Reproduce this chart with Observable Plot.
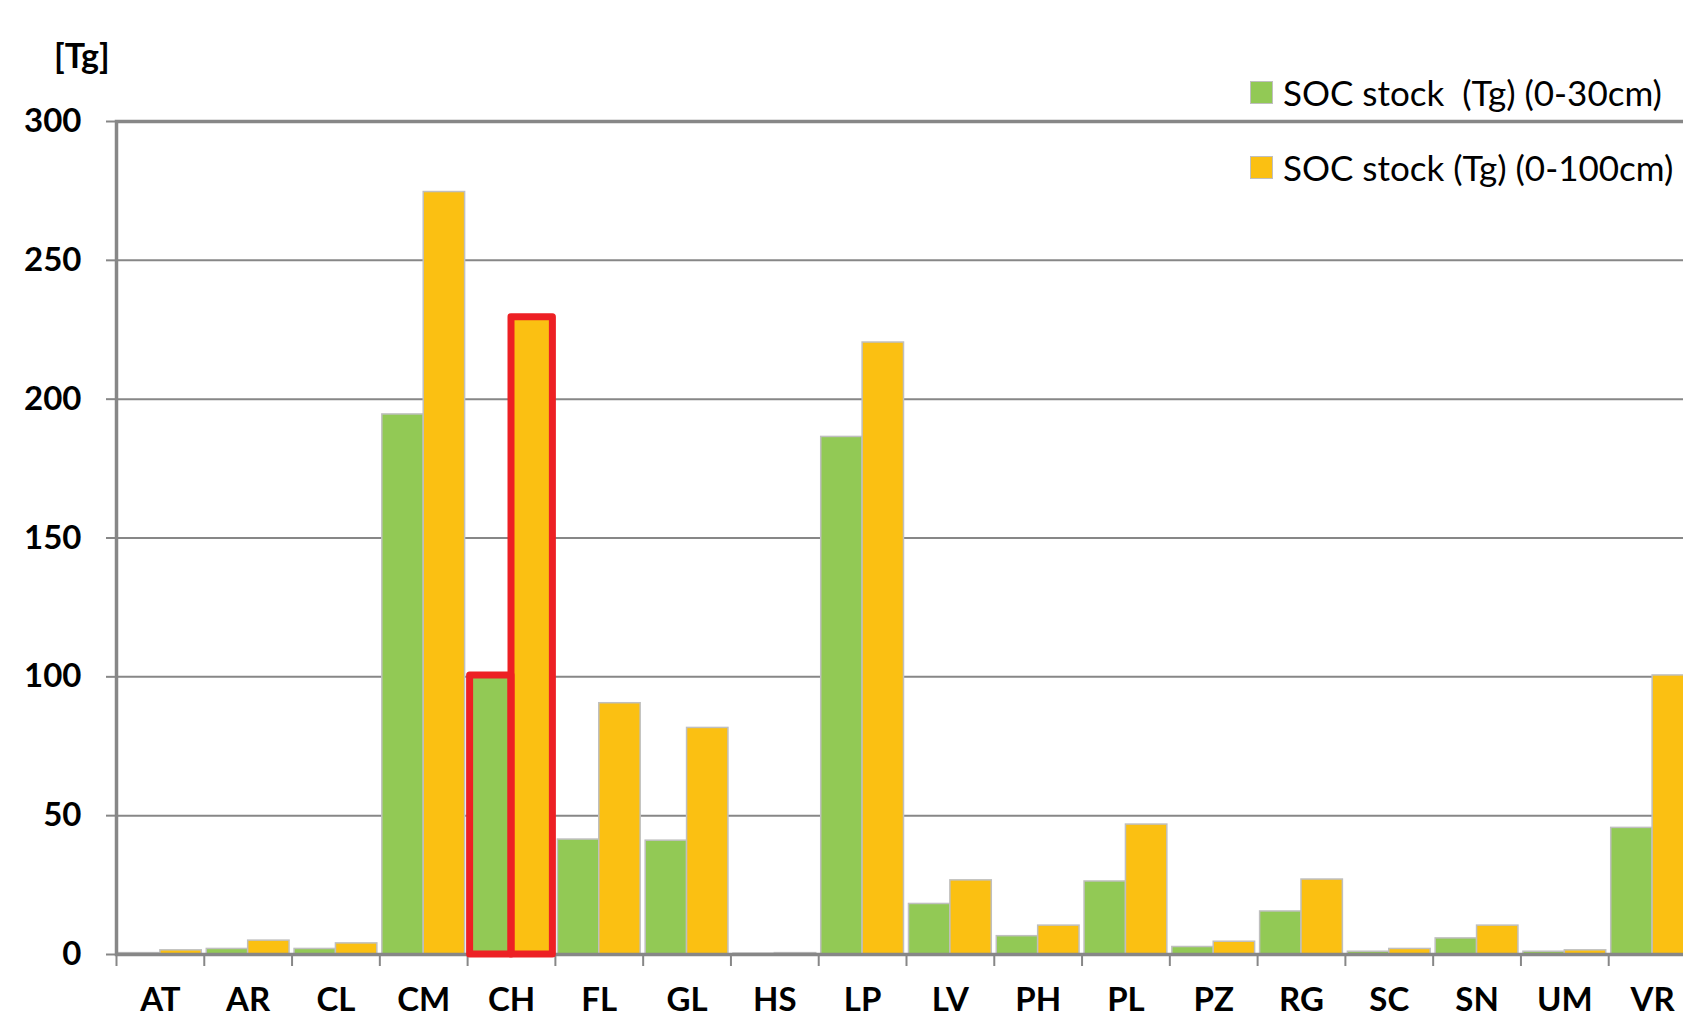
<!DOCTYPE html>
<html><head><meta charset="utf-8">
<script src="https://cdn.jsdelivr.net/npm/d3@7"></script>
<script src="https://cdn.jsdelivr.net/npm/@observablehq/plot@0.6"></script>
<style>
html,body{margin:0;padding:0;background:#fff;overflow:hidden;width:1683px;height:1017px;}
#wrap{position:relative;width:1683px;height:1017px;overflow:hidden;background:#fff;}
#chart{position:absolute;left:0;top:0;}
#unit{position:absolute;left:54px;top:34px;font-family:Lato;font-weight:bold;font-size:34px;color:#000;}
.leg{position:absolute;left:1250px;display:flex;align-items:center;font-family:Lato;font-size:35px;white-space:pre;color:#000;height:40px;}
.sw{width:21px;height:21px;border:1.5px solid #bfbfbf;margin-right:10px;flex:none;}
</style></head><body>
<div id="wrap"><div id="chart"></div><div id="unit"></div><div id="legend"></div></div>
<script>
const categories = ["AT","AR","CL","CM","CH","FL","GL","HS","LP","LV","PH","PL","PZ","RG","SC","SN","UM","VR"];
const soc30 = [0.5, 2, 2, 194.5, 100.5, 41.4, 41, 0.3, 186.4, 18.2, 6.6, 26.3, 2.7, 15.5, 1, 5.8, 1, 45.6];
const soc100 = [1.5, 5, 4, 274.6, 229.5, 90.5, 81.6, 0.5, 220.4, 26.7, 10.4, 46.8, 4.6, 27, 2, 10.4, 1.5, 100.5];
const seriesNames = ["SOC stock  (Tg) (0-30cm)", "SOC stock (Tg) (0-100cm)"];
const seriesColors = ["#92C955", "#FBC012"];
const yTicks = [0, 50, 100, 150, 200, 250, 300];
const highlighted = ["CH"];
const unitLabel = "[Tg]";

const rows30 = categories.map((c, i) => ({cat: c, v: soc30[i]}));
const rows100 = categories.map((c, i) => ({cat: c, v: soc100[i]}));

const W = 1700, H = 1017, ML = 116, MR = 4, MT = 121, MB = 63;
const bw = (W - ML - MR) / categories.length;
const gap = 2.5;
const gray = "#878787";

const plot = Plot.plot({
  width: W, height: H,
  marginLeft: ML, marginRight: MR, marginTop: MT, marginBottom: MB,
  style: {fontFamily: "Lato", fontSize: "33px", fontWeight: "bold", maxWidth: "none", background: "transparent", overflow: "visible", color: "#000"},
  x: {domain: categories, padding: 0, round: false, axis: null},
  y: {domain: [0, 300], axis: null},
  marks: [
    Plot.gridY(yTicks, {stroke: gray, strokeOpacity: 1, strokeWidth: 2}),
    Plot.barY(rows30, {x: "cat", y: "v", fill: seriesColors[0], stroke: "#BFBFBF", strokeWidth: 1.5, insetLeft: gap, insetRight: bw / 2}),
    Plot.barY(rows100, {x: "cat", y: "v", fill: seriesColors[1], stroke: "#BFBFBF", strokeWidth: 1.5, insetLeft: bw / 2, insetRight: gap}),
    Plot.frame({stroke: gray, strokeWidth: 3.5}),
    Plot.axisY(yTicks, {tickSize: 10, tickPadding: 25, stroke: gray, strokeWidth: 2, fill: "#000", fontSize: 33, fontWeight: "bold", label: null}),
    Plot.axisX({tickSize: 12, tickFormat: () => "", dx: -bw / 2, stroke: gray, strokeWidth: 2, label: null}),
    Plot.axisX({tickSize: 0, tickPadding: 33, fill: "#000", fontSize: 33, fontWeight: "bold", label: null}),
    Plot.barY(rows30.filter(d => highlighted.includes(d.cat)), {x: "cat", y: "v", fill: "none", stroke: "#ED2024", strokeWidth: 7, strokeLinejoin: "round", insetLeft: gap, insetRight: bw / 2}),
    Plot.barY(rows100.filter(d => highlighted.includes(d.cat)), {x: "cat", y: "v", fill: "none", stroke: "#ED2024", strokeWidth: 7, strokeLinejoin: "round", insetLeft: bw / 2, insetRight: gap})
  ]
});
document.getElementById("chart").appendChild(plot);
document.getElementById("unit").textContent = unitLabel;

const legend = document.getElementById("legend");
const legTops = [72, 147];
seriesNames.forEach((name, i) => {
  const item = document.createElement("div");
  item.className = "leg";
  item.style.top = legTops[i] + "px";
  const sw = document.createElement("div");
  sw.className = "sw";
  sw.style.background = seriesColors[i];
  const t = document.createElement("span");
  t.textContent = name;
  item.appendChild(sw); item.appendChild(t);
  legend.appendChild(item);
});
</script>
</body></html>
